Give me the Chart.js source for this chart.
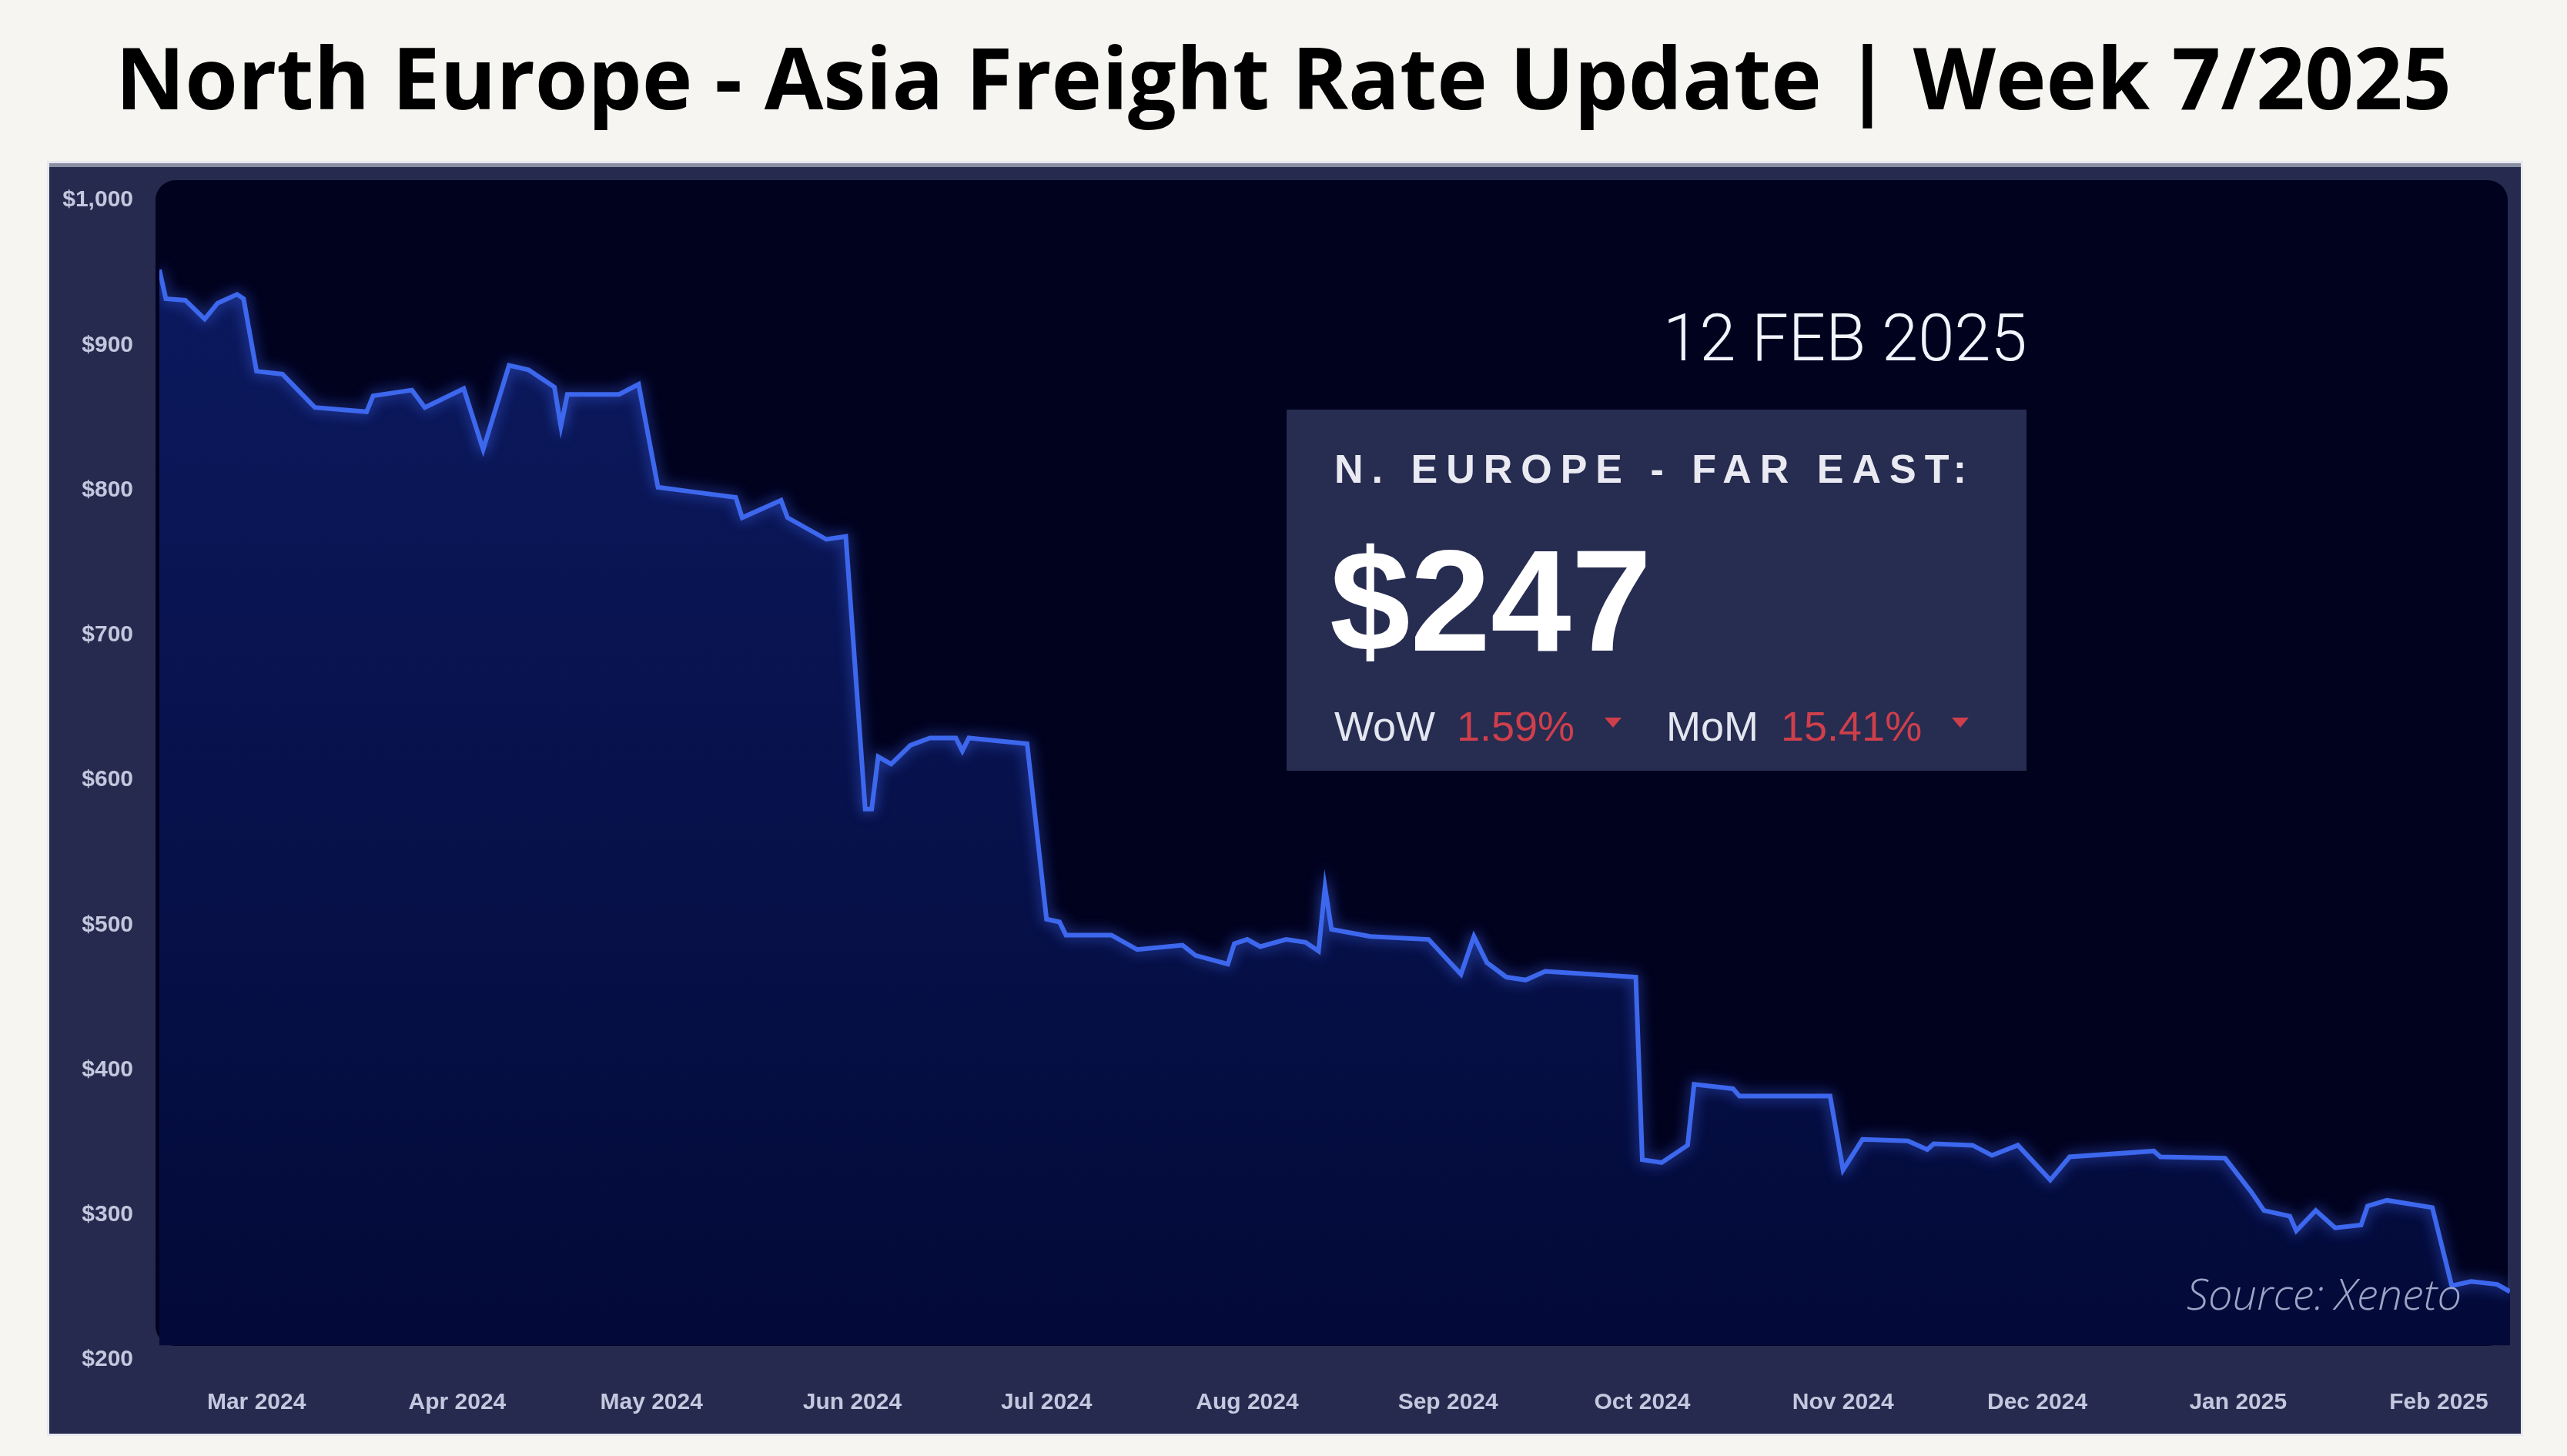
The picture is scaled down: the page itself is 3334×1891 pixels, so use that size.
<!DOCTYPE html>
<html>
<head>
<meta charset="utf-8">
<script src="https://cdn.jsdelivr.net/npm/chart.js@4.4.1/dist/chart.umd.min.js"></script>
<style>
  body { margin: 0; width: 3334px; height: 1891px; background: #f6f5f1; position: relative; overflow: hidden; }
  #title { position: absolute; left: 0; width: 3334px; top: 44px; text-align: center; font: 700 111px/1 "Open Sans", sans-serif; color: #000; white-space: nowrap; }
  #panel { position: absolute; left: 64px; top: 212px; width: 3210px; height: 1650px; background: #262a4e; border-top: 5px solid #8a8ea2; box-sizing: border-box; box-shadow: 0 0 0 3px #e6e9f1; }
  #plotBg { position: absolute; left: 202px; top: 234px; width: 3055px; height: 1514px; background: #01021e; border-radius: 26px; }
  #chart { position: absolute; left: 0; top: 0; }
  #dateLabel { position: absolute; left: 2160px; top: 397px; font: 300 85px/1 Roboto, sans-serif; color: #f2f4ff; white-space: nowrap; }
  #infoBox { position: absolute; left: 1671px; top: 532px; width: 961px; height: 469px; background: #272c51; }
  #infoBox div, #infoBox span { position: absolute; white-space: nowrap; }
  .route { left: 62px; top: 51px; font: 700 52px/1 "Liberation Sans", Arial, sans-serif; letter-spacing: 11px; color: #e9eaf2; }
  .price { left: 56px; top: 154px; font: 700 188px/1 "Liberation Sans", Arial, sans-serif; color: #ffffff; }
  .lbl { top: 384px; font: 400 54px/1 "Liberation Sans", Arial, sans-serif; color: #e4e6f0; }
  .pct { top: 384px; font: 400 54px/1 "Liberation Sans", Arial, sans-serif; color: #cf3f4b; }
  .down { top: 400px; width: 0; height: 0; border-left: 11px solid transparent; border-right: 11px solid transparent; border-top: 13px solid #cf3f4b; }
  #source { position: absolute; left: 2840px; top: 1651px; font: italic 300 56px/1 "Open Sans", sans-serif; color: #9ea4c6; white-space: nowrap; }
</style>
</head>
<body>
<div id="title">North Europe - Asia Freight Rate Update | Week 7/2025</div>
<div id="panel"></div>
<div id="plotBg"></div>
<canvas id="chart" width="3334" height="1891"></canvas>
<div id="dateLabel">12 FEB 2025</div>
<div id="infoBox">
  <div class="route">N. EUROPE - FAR EAST:</div>
  <div class="price">$247</div>
  <span class="lbl" style="left:62px">WoW</span>
  <span class="pct" style="left:221px">1.59%</span>
  <span class="down" style="left:413px"></span>
  <span class="lbl" style="left:493px">MoM</span>
  <span class="pct" style="left:642px">15.41%</span>
  <span class="down" style="left:864px"></span>
</div>
<div id="source">Source: Xeneto</div>

<script>
// N. Europe -> Far East spot rate, USD per FEU
const rateDates = [
  '2024-02-15', '2024-02-16', '2024-02-19', '2024-02-22', '2024-02-24', '2024-02-27', '2024-02-28',
  '2024-03-01', '2024-03-05', '2024-03-10', '2024-03-18', '2024-03-19', '2024-03-25', '2024-03-27',
  '2024-04-02', '2024-04-05', '2024-04-09', '2024-04-12', '2024-04-16', '2024-04-17', '2024-04-18',
  '2024-04-26', '2024-04-29', '2024-05-02', '2024-05-07', '2024-05-14', '2024-05-15', '2024-05-21',
  '2024-05-22', '2024-05-28', '2024-05-31', '2024-06-03', '2024-06-04', '2024-06-05', '2024-06-07',
  '2024-06-10', '2024-06-13', '2024-06-17', '2024-06-18', '2024-06-19', '2024-06-28', '2024-07-01',
  '2024-07-03', '2024-07-04', '2024-07-11', '2024-07-15', '2024-07-22', '2024-07-24', '2024-07-29',
  '2024-07-30', '2024-08-01', '2024-08-03', '2024-08-07', '2024-08-10', '2024-08-12', '2024-08-13',
  '2024-08-14', '2024-08-20', '2024-08-29', '2024-09-03', '2024-09-05', '2024-09-07', '2024-09-10',
  '2024-09-13', '2024-09-16', '2024-09-30', '2024-10-01', '2024-10-04', '2024-10-08', '2024-10-09',
  '2024-10-15', '2024-10-16', '2024-10-30', '2024-11-01', '2024-11-04', '2024-11-11', '2024-11-14',
  '2024-11-15', '2024-11-21', '2024-11-24', '2024-11-28', '2024-12-03', '2024-12-06', '2024-12-19',
  '2024-12-20', '2024-12-30', '2025-01-03', '2025-01-05', '2025-01-09', '2025-01-10', '2025-01-13',
  '2025-01-16', '2025-01-20', '2025-01-21', '2025-01-24', '2025-01-31', '2025-02-03', '2025-02-06',
  '2025-02-10', '2025-02-12'
];
const rateValues = [
  952, 932, 931, 918, 929, 935, 932,
  882, 880, 857, 854, 865, 869, 857,
  870, 828, 886, 883, 871, 844, 866,
  866, 873, 802, 799, 795, 781, 793,
  781, 766, 768, 580, 580, 616, 611,
  624, 629, 629, 620, 629, 625, 504,
  502, 493, 493, 483, 486, 479, 473,
  487, 490, 485, 490, 488, 482, 526,
  497, 492, 490, 466, 492, 474, 464,
  462, 468, 464, 338, 336, 348, 390,
  387, 382, 382, 331, 352, 351, 345,
  349, 348, 341, 348, 324, 340, 344,
  340, 339, 316, 303, 299, 289, 303,
  291, 293, 306, 310, 305, 251, 254,
  252, 247
];

// x-axis month ticks
const monthStarts = ['2024-03-01', '2024-04-01', '2024-05-01', '2024-06-01', '2024-07-01', '2024-08-01',
  '2024-09-01', '2024-10-01', '2024-11-01', '2024-12-01', '2025-01-01', '2025-02-01'];
const monthLabels = ['Mar 2024', 'Apr 2024', 'May 2024', 'Jun 2024', 'Jul 2024', 'Aug 2024',
  'Sep 2024', 'Oct 2024', 'Nov 2024', 'Dec 2024', 'Jan 2025', 'Feb 2025'];
const yTicks = [200, 300, 400, 500, 600, 700, 800, 900, 1000];

// days since 1 Mar 2024, so the x axis can stay linear (no date adapter offline)
const origin = Date.UTC(2024, 2, 1);
function dayOf(s) {
  const p = s.split('-').map(Number);
  return Math.round((Date.UTC(p[0], p[1] - 1, p[2]) - origin) / 86400000);
}
const points = rateDates.map((d, i) => ({ x: dayOf(d), y: rateValues[i] }));
const tickDays = monthStarts.map(dayOf);

const tickFont = { family: '"Liberation Sans", Arial, sans-serif', size: 30, weight: 'bold' };
const tickColor = '#c3c8de';

const glow = {
  id: 'glow',
  beforeDatasetDraw(chart) {
    const ctx = chart.ctx;
    ctx.save();
    ctx.shadowColor = 'rgba(70,110,255,0.8)';
    ctx.shadowBlur = 18;
  },
  afterDatasetDraw(chart) {
    chart.ctx.restore();
  }
};

new Chart(document.getElementById('chart'), {
  type: 'line',
  data: {
    datasets: [{
      data: points,
      borderColor: '#3d68ee',
      borderWidth: 6,
      pointRadius: 0,
      tension: 0,
      fill: { target: { value: 210 } },
      backgroundColor(c) {
        const area = c.chart.chartArea;
        if (!area) return '#071244';
        const g = c.chart.ctx.createLinearGradient(0, area.top, 0, area.bottom);
        g.addColorStop(0, '#0c1a60');
        g.addColorStop(1, '#030a38');
        return g;
      }
    }]
  },
  options: {
    responsive: false,
    devicePixelRatio: 1,
    animation: false,
    layout: { padding: { left: 64, right: 74, top: 260, bottom: 0 } },
    plugins: { legend: { display: false }, tooltip: { enabled: false } },
    scales: {
      x: {
        type: 'linear',
        min: -15,
        max: 348,
        grid: { display: false },
        border: { display: false },
        afterBuildTicks(scale) { scale.ticks = tickDays.map(v => ({ value: v })); },
        afterFit(scale) { scale.height = 125; },
        ticks: {
          autoSkip: false,
          maxRotation: 0,
          padding: 30,
          color: tickColor,
          font: tickFont,
          callback: v => monthLabels[tickDays.indexOf(v)]
        }
      },
      y: {
        min: 200,
        max: 1000,
        grid: { display: false },
        border: { display: false },
        afterBuildTicks(scale) { scale.ticks = yTicks.map(v => ({ value: v })); },
        afterFit(scale) { scale.width = 143; },
        ticks: {
          padding: 26,
          color: tickColor,
          font: tickFont,
          callback: v => '$' + v.toLocaleString('en-US')
        }
      }
    }
  },
  plugins: [glow]
});
</script>
</body>
</html>
